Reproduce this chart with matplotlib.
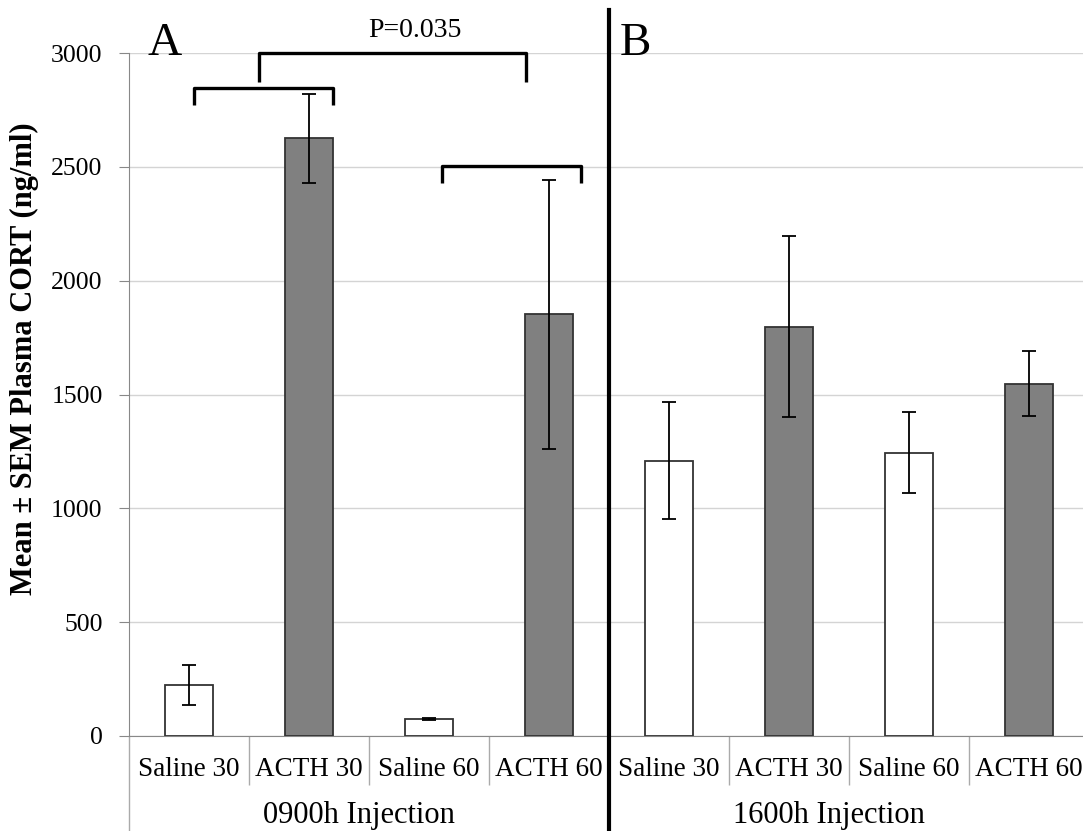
import numpy as np
import matplotlib
matplotlib.use('Agg')
import matplotlib.pyplot as plt
import matplotlib.transforms as mtransforms

plt.rcParams['font.family'] = ['Liberation Serif', 'DejaVu Serif']

# Data
categories = ['Saline 30', 'ACTH 30', 'Saline 60', 'ACTH 60',
              'Saline 30', 'ACTH 30', 'Saline 60', 'ACTH 60']
means = [222, 2625, 75, 1852, 1210, 1797, 1245, 1548]
sems = [88, 195, 5, 590, 255, 398, 176, 143]
bar_colors = ['white', '#808080', 'white', '#808080',
              'white', '#808080', 'white', '#808080']
groups = ['0900h Injection', '1600h Injection']
group_pos = [1.42, 5.33]

# brackets: (x left, x right, y top, y ends)
brackets = [(0.04, 1.2, 2846, 2771),
            (0.58, 2.81, 3000, 2872),
            (2.11, 3.27, 2503, 2429)]
p_text = 'P=0.035'

fig = plt.figure(figsize=(10.83, 8.31), dpi=100)
ax = fig.add_axes([129/1083, 95/831, 960/1083, 683/831])

x = np.arange(len(categories))
ax.bar(x, means, width=0.4, color=bar_colors, edgecolor='#333333', linewidth=1.3,
       yerr=sems, error_kw=dict(ecolor='black', elinewidth=1.3, capsize=5, capthick=1.3),
       zorder=3)

ax.set_xlim(-0.5, 7.5)
ax.set_ylim(0, 3000)
ax.set_yticks(np.arange(0, 3001, 500))
ax.yaxis.grid(True, color='#d4d4d4', linewidth=1, zorder=0)
ax.tick_params(axis='y', labelsize=18.5, length=7, color='#888888', pad=12)

ax.set_xticks(x)
ax.set_xticklabels(categories)
ax.tick_params(axis='x', which='major', length=0, labelsize=19.5, pad=15)
ax.set_xticks(np.arange(0.5, 7.5, 1), minor=True)
ax.tick_params(axis='x', which='minor', length=35, width=1, color='#aaaaaa')

for s in ['top', 'right']:
    ax.spines[s].set_visible(False)
ax.spines['left'].set_color('#888888')
ax.spines['bottom'].set_color('#888888')

ax.set_ylabel('Mean ± SEM Plasma CORT (ng/ml)', fontsize=22, fontweight='bold')
ax.yaxis.set_label_coords(-0.094, 0.553)

trans = mtransforms.blended_transform_factory(ax.transData, ax.transAxes)
# group labels and outer separator
for g, gp in zip(groups, group_pos):
    ax.text(gp, -0.1274, g, transform=trans, ha='center', va='baseline', fontsize=22)
ax.plot([-0.5, -0.5], [0, -0.14], transform=trans, color='#aaaaaa', lw=1, clip_on=False)
# thick divider between A and B
ax.plot([3.5, 3.5], [-0.14, 1.063], transform=trans, color='black', lw=3, clip_on=False, zorder=5)

# significance brackets
for xl, xr, yt, ye in brackets:
    ax.plot([xl, xl, xr, xr], [ye, yt, yt, ye], color='black', lw=2.4,
            solid_joinstyle='round', solid_capstyle='butt', clip_on=False, zorder=4)
ax.text(1.88, 3100, p_text, ha='center', va='center', fontsize=20)

ax.text(-0.2, 3040, 'A', ha='center', va='center', fontsize=34)
ax.text(3.72, 3040, 'B', ha='center', va='center', fontsize=34)

fig.savefig('out.png', dpi=100)
